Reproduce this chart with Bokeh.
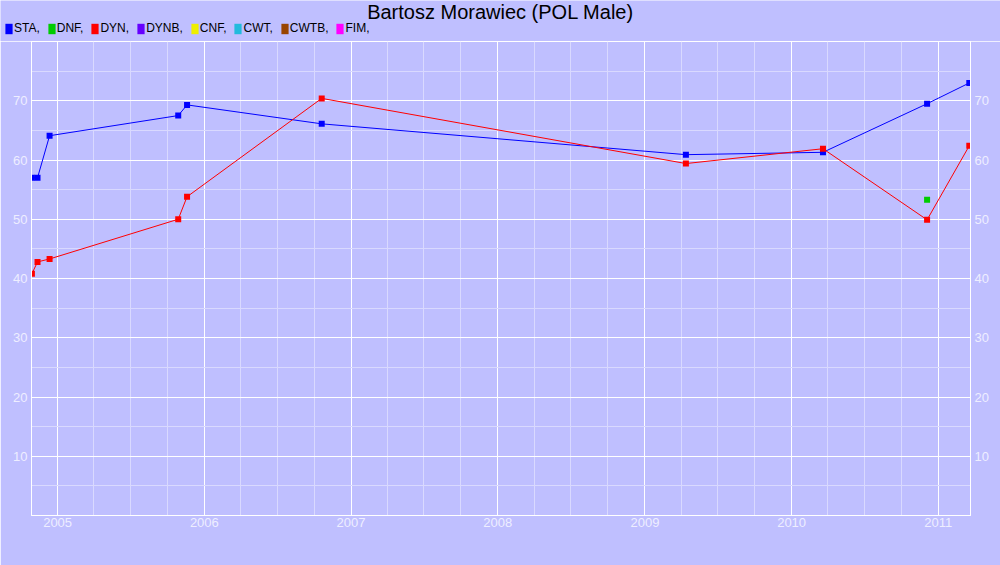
import pandas as pd
from bokeh.plotting import figure
from bokeh.layouts import column
from bokeh.models import (Range1d, FixedTicker, DatetimeTickFormatter, LinearAxis,
                          Legend, LegendItem, Label, ColumnDataSource)
from bokeh.embed import file_html
from bokeh.resources import INLINE

# ---------------- data ----------------
chart_title = "Bartosz Morawiec (POL Male)"
dates = ["2004-10-29", "2004-11-12", "2004-12-12", "2005-10-28", "2005-11-19",
         "2006-10-20", "2009-04-13", "2010-03-20", "2010-12-04", "2011-03-19"]
sta = [57.0, 57.0, 64.1, 67.5, 69.3, 66.1, 60.9, 61.3, 69.5, 73.0]
dyn = [40.8, 42.8, 43.3, 50.0, 53.8, 70.4, 59.4, 61.9, 49.9, 62.4]
dnf_dates = ["2010-12-04"]
dnf = [53.3]
legend_names = ["STA", "DNF", "DYN", "DYNB", "CNF", "CWT", "CWTB", "FIM"]
legend_colors = ["#0000FF", "#00CC00", "#FF0000", "#6600FF", "#EEEE00", "#22BBDD", "#994400", "#FF00FF"]
years = [2005, 2006, 2007, 2008, 2009, 2010, 2011]
y_major = [10, 20, 30, 40, 50, 60, 70]
y_minor = [5, 15, 25, 35, 45, 55, 65, 75]
x_start, x_end = "2004-10-28", "2011-03-22"

BG = "#BFBFFF"
LABEL = "#EEEEFF"
MINOR = "#D9D9FF"
FONT = "Liberation Sans"
W = 1000
TOP_H = 41
MAIN_H = 524


def ms(s):
    return pd.Timestamp(s).timestamp() * 1000.0


year_ticks = [ms(f"{y}-01-01") for y in years]
quarter_ticks = []
for y in range(years[0] - 1, years[-1] + 1):
    for m in (4, 7, 10):
        quarter_ticks.append(ms(f"{y}-{m:02d}-01"))
quarter_ticks.append(ms(f"{years[-1]}-04-01"))

# ---------------- header (title + legend) ----------------
top = figure(width=W, height=TOP_H, x_range=Range1d(0, W), y_range=Range1d(0, TOP_H),
             x_axis_location=None, y_axis_location=None,
             output_backend="svg", toolbar_location=None,
             min_border_left=0, min_border_right=0, min_border_top=0, min_border_bottom=0)
top.frame_align = False
top.background_fill_color = BG
top.border_fill_color = BG
top.outline_line_color = None
top.grid.grid_line_color = None

top.add_layout(Label(x=W / 2, y=TOP_H - 11.5, x_units="screen", y_units="screen",
                     text=chart_title, text_align="center", text_baseline="alphabetic",
                     text_font=FONT, text_font_size="20px", text_color="black"))

# legend swatches: zero-size placeholder quads (only their colour is shown in the legend)
items = []
for name, col in zip(legend_names, legend_colors):
    r = top.quad(left=[0], right=[0], top=[0], bottom=[0], fill_color=col, line_color=None)
    items.append(LegendItem(label=f"{name},", renderers=[r]))
legend = Legend(items=items, orientation="horizontal", location=(4, 6),
                glyph_width=9, glyph_height=13, label_standoff=1, spacing=7,
                padding=0, margin=0, background_fill_alpha=0, border_line_alpha=0,
                label_text_font=FONT, label_text_font_size="12px",
                label_height=13, label_width=0, label_text_color="black")
top.add_layout(legend)

# ---------------- main chart ----------------
p = figure(width=W, height=MAIN_H, x_axis_type="datetime",
           x_range=Range1d(pd.Timestamp(x_start), pd.Timestamp(x_end)),
           y_range=Range1d(0, 80),
           output_backend="svg", toolbar_location=None,
           min_border_left=31, min_border_right=30, min_border_top=0, min_border_bottom=50)
p.frame_align = False
p.background_fill_color = BG
p.border_fill_color = BG
p.outline_line_color = "white"
p.outline_line_width = 1

p.xaxis.ticker = FixedTicker(ticks=year_ticks, minor_ticks=quarter_ticks)
p.xaxis.formatter = DatetimeTickFormatter(years="%Y", months="%Y", days="%Y", hours="%Y",
                                          hourmin="%Y", minutes="%Y", minsec="%Y",
                                          seconds="%Y", milliseconds="%Y", microseconds="%Y")
p.yaxis.ticker = FixedTicker(ticks=y_major, minor_ticks=y_minor)
p.add_layout(LinearAxis(ticker=FixedTicker(ticks=y_major, minor_ticks=y_minor)), "right")

for ax in p.axis:
    ax.axis_line_color = "white"
    ax.major_tick_in = 0
    ax.major_tick_out = 0
    ax.minor_tick_in = 0
    ax.minor_tick_out = 0
    ax.major_label_text_color = LABEL
    ax.major_label_text_font = FONT
    ax.major_label_text_font_size = "13px"
    ax.major_label_standoff = 4
p.xaxis.major_label_standoff = 2

for g in (p.xgrid, p.ygrid):
    g.grid_line_color = "white"
    g.grid_line_width = 1
    g.minor_grid_line_color = MINOR
    g.minor_grid_line_width = 1

src = ColumnDataSource(dict(d=pd.to_datetime(dates), sta=sta, dyn=dyn))
src_dnf = ColumnDataSource(dict(d=pd.to_datetime(dnf_dates), v=dnf))

p.line("d", "sta", source=src, color=legend_colors[0], line_width=1)
p.scatter("d", "sta", source=src, marker="square", size=6,
          fill_color=legend_colors[0], line_color=None)
p.line("d", "dyn", source=src, color=legend_colors[2], line_width=1)
p.scatter("d", "dyn", source=src, marker="square", size=6,
          fill_color=legend_colors[2], line_color=None)
p.scatter("d", "v", source=src_dnf, marker="square", size=6,
          fill_color=legend_colors[1], line_color=None)

layout = column(top, p, spacing=0)
open("out.html", "w").write(file_html(layout, INLINE))
